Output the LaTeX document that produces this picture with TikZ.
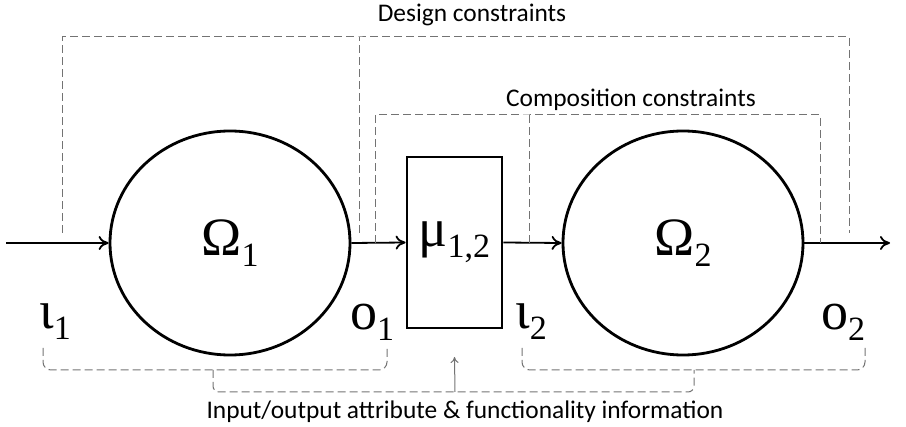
\documentclass[tikz,border=0pt]{standalone}
\usepackage{fontspec}
\setmainfont{Carlito}
\newfontfamily\serglyph{Liberation Serif}
\usetikzlibrary{arrows.meta,shapes.geometric}
\newcommand{\symsub}[2]{{\serglyph #1}\raisebox{-5.5pt}{\fontsize{17}{17}\selectfont\serglyph #2}}
\tikzset{
  blob/.style={ellipse,draw,line width=1.4pt,minimum width=120pt,minimum height=112pt,inner sep=0pt},
  mapbox/.style={rectangle,draw,line width=1.4pt,minimum width=47.5pt,minimum height=85.5pt,inner sep=0pt},
  flow/.style={line width=0.9pt,-{To[length=5pt,width=7pt]}},
  dsh/.style={black!55,line width=0.5pt,dash pattern=on 4pt off 2pt},
  sym/.style={font=\fontsize{27}{29}\selectfont},
  lbl/.style={font=\fontsize{12.7}{14}\selectfont}
}
\begin{document}
\begin{tikzpicture}[x=0.5pt,y=-0.5pt]
  \useasboundingbox (0,0) rectangle (906,427);

  %i due sistemi e il mapping
  \node[blob,sym] (om1) at (230,243) {\symsub{Ω}{1}};
  \node[mapbox,sym] (mu) at (454.5,242.5) {\symsub{μ}{1,2}};
  \node[blob,sym] (om2) at (683,243) {\symsub{Ω}{2}};

  %ingresso e uscita
  \coordinate (in) at (6,243);
  \coordinate (out) at (890,243);

  %frecce
  \draw[flow] (in) -- (om1);
  \draw[flow] (om1.east) -- (mu.west);
  \draw[flow] (mu.east) -- (om2.west);
  \draw[flow] (om2.east) -- (out);

  %etichette ingressi/uscite
  \node[sym] (i1) at (55,322) {\symsub{ι}{1}};
  \node[sym] (o1) at (372,322) {\symsub{o}{1}};
  \node[sym] (i2) at (531,322) {\symsub{ι}{2}};
  \node[sym] (o2) at (843,322) {\symsub{o}{2}};

  %vincoli di progetto
  \node[lbl] (dlab) at (472,15) {Design constraints};
  \coordinate (d1) at (62,233);
  \coordinate (d2) at (359,233);
  \coordinate (d3) at (849,233);
  \coordinate (dtop) at (359,37);
  \draw[dsh] (d1) |- (dtop) -| (d3);
  \draw[dsh] (d2) -- (dtop);

  %vincoli di composizione
  \node[lbl] (clab) at (631,100) {Composition constraints};
  \coordinate (c1) at (375,243);
  \coordinate (c2) at (529,243);
  \coordinate (c3) at (820,243);
  \coordinate (ctop) at (529,115);
  \draw[dsh] (c1) |- (ctop) -| (c3);
  \draw[dsh] (c2) -- (ctop);

  %graffe in basso
  \coordinate (b1) at (43,348);
  \coordinate (b2) at (387,348);
  \coordinate (b3) at (522,348);
  \coordinate (b4) at (865,348);
  \coordinate (k1) at (213,392);
  \coordinate (k2) at (694,392);
  \coordinate (k0) at (455,392);
  \draw[dsh,rounded corners=4pt] (b1) |- (k1 |- 0,370) -| (b2);
  \draw[dsh,rounded corners=4pt] (b3) |- (k2 |- 0,370) -| (b4);
  \draw[dsh,rounded corners=3pt] (k1 |- 0,370) -- (k1) -- (k2) -- (k2 |- 0,370);
  \draw[black!55,line width=0.5pt,-{To[length=3pt,width=4pt]}] (k0) -- (mu.south |- 0,357);
  \node[lbl] (info) at (465,412) {Input/output attribute \& functionality information};
\end{tikzpicture}
\end{document}
